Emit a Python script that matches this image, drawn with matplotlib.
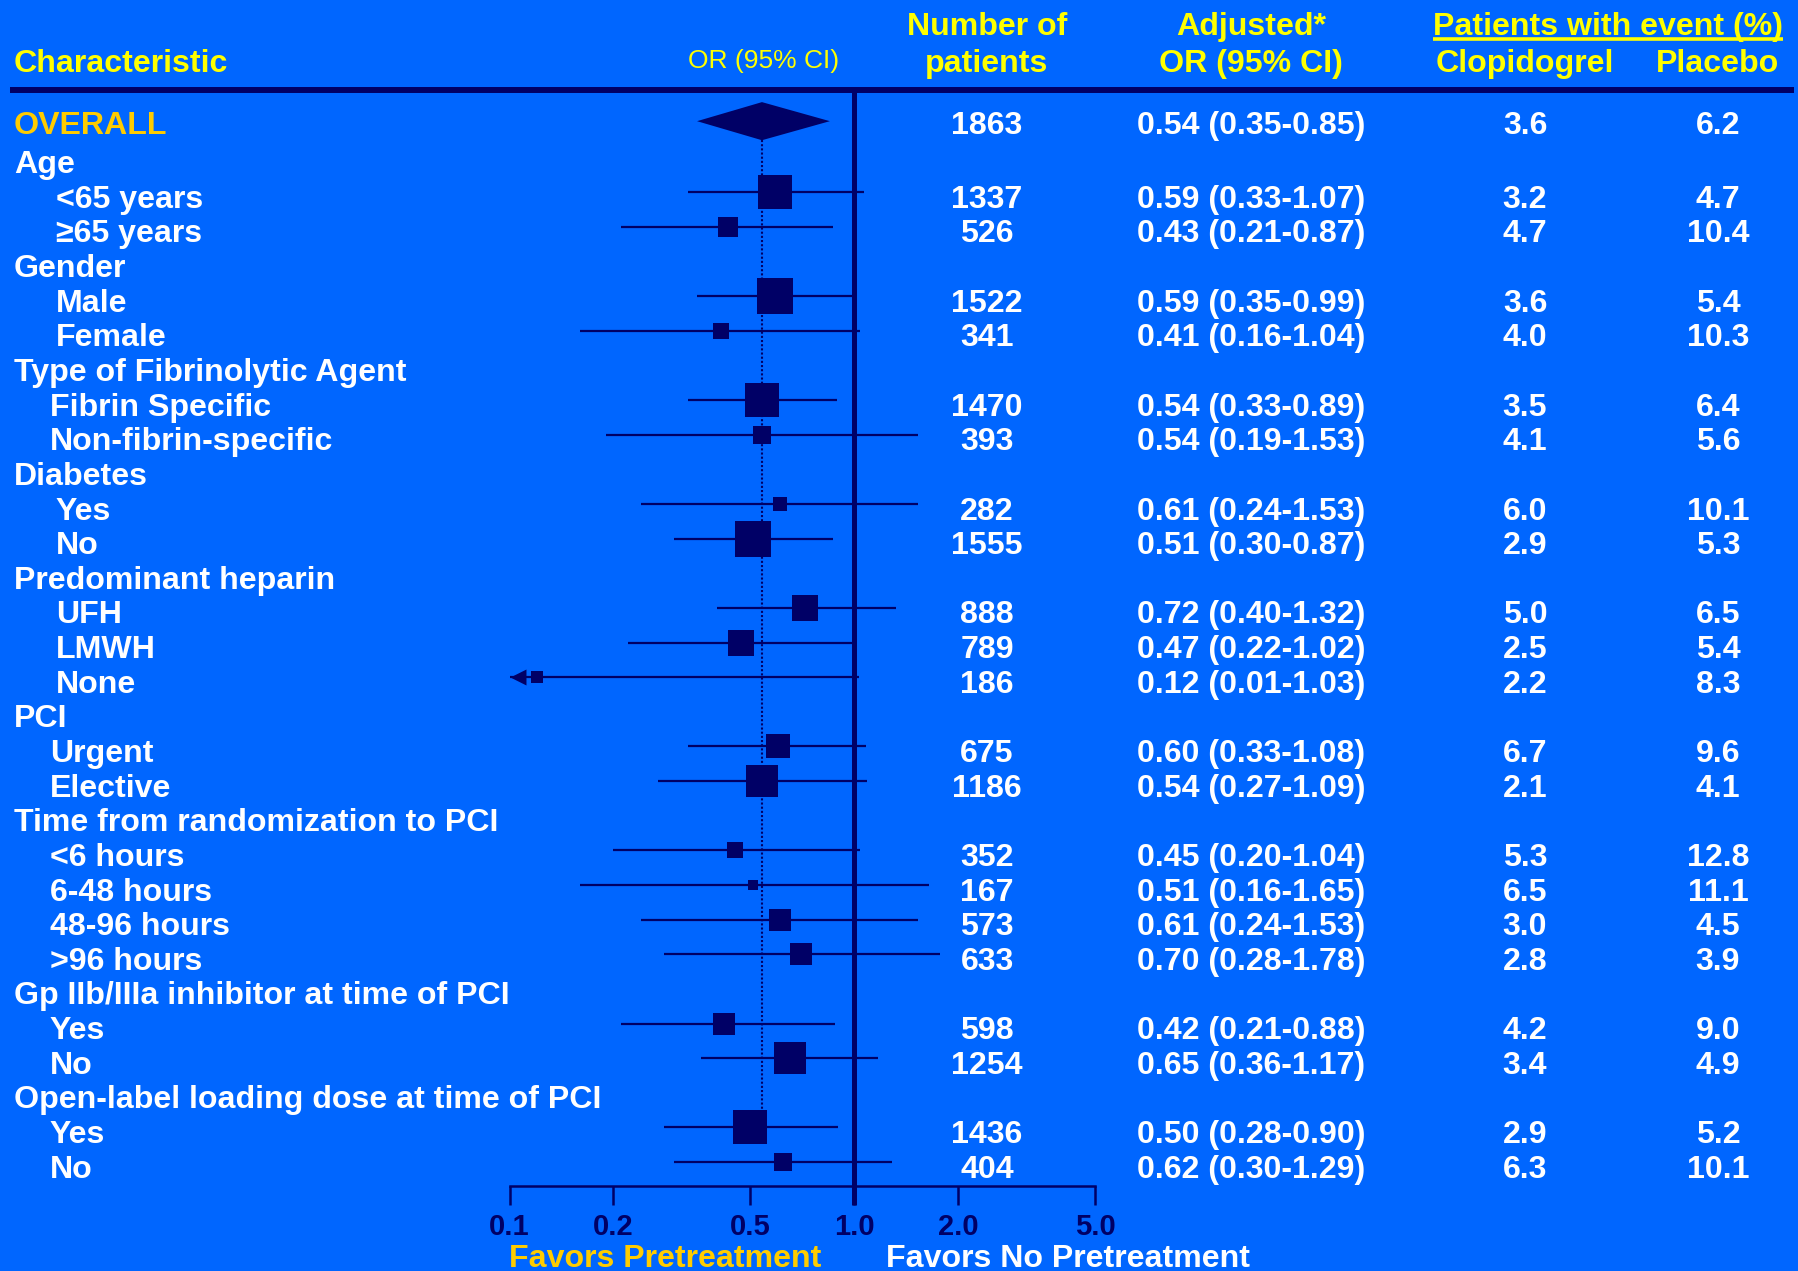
import numpy as np
import matplotlib
matplotlib.use("Agg")
from matplotlib import pyplot as plt
from matplotlib import transforms
from matplotlib.ticker import NullLocator

# ---- data ----
labels = ["OVERALL", "Age", "<65 years", "\u226565 years", "Gender", "Male", "Female",
          "Type of Fibrinolytic Agent", "Fibrin Specific", "Non-fibrin-specific",
          "Diabetes", "Yes", "No", "Predominant heparin", "UFH", "LMWH", "None",
          "PCI", "Urgent", "Elective", "Time from randomization to PCI",
          "<6 hours", "6-48 hours", "48-96 hours", ">96 hours",
          "Gp IIb/IIIa inhibitor at time of PCI", "Yes", "No",
          "Open-label loading dose at time of PCI", "Yes", "No"]
n_patients = [1863, None, 1337, 526, None, 1522, 341, None, 1470, 393, None, 282, 1555,
              None, 888, 789, 186, None, 675, 1186, None, 352, 167, 573, 633,
              None, 598, 1254, None, 1436, 404]
odds_ratio = [0.54, None, 0.59, 0.43, None, 0.59, 0.41, None, 0.54, 0.54, None, 0.61, 0.51,
              None, 0.72, 0.47, 0.12, None, 0.60, 0.54, None, 0.45, 0.51, 0.61, 0.70,
              None, 0.42, 0.65, None, 0.50, 0.62]
ci_low = [0.35, None, 0.33, 0.21, None, 0.35, 0.16, None, 0.33, 0.19, None, 0.24, 0.30,
          None, 0.40, 0.22, 0.01, None, 0.33, 0.27, None, 0.20, 0.16, 0.24, 0.28,
          None, 0.21, 0.36, None, 0.28, 0.30]
ci_high = [0.85, None, 1.07, 0.87, None, 0.99, 1.04, None, 0.89, 1.53, None, 1.53, 0.87,
           None, 1.32, 1.02, 1.03, None, 1.08, 1.09, None, 1.04, 1.65, 1.53, 1.78,
           None, 0.88, 1.17, None, 0.90, 1.29]
clopidogrel = [3.6, None, 3.2, 4.7, None, 3.6, 4.0, None, 3.5, 4.1, None, 6.0, 2.9,
               None, 5.0, 2.5, 2.2, None, 6.7, 2.1, None, 5.3, 6.5, 3.0, 2.8,
               None, 4.2, 3.4, None, 2.9, 6.3]
placebo = [6.2, None, 4.7, 10.4, None, 5.4, 10.3, None, 6.4, 5.6, None, 10.1, 5.3,
           None, 6.5, 5.4, 8.3, None, 9.6, 4.1, None, 12.8, 11.1, 4.5, 3.9,
           None, 9.0, 4.9, None, 5.2, 10.1]
tick_values = [0.1, 0.2, 0.5, 1.0, 2.0, 5.0]
tick_labels = ["0.1", "0.2", "0.5", "1.0", "2.0", "5.0"]

# ---- style ----
BG = "#0066FF"
NAVY = "#000066"
YELLOW = "#FFFF00"
GOLD = "#FFCC00"
WHITE = "#FFFFFF"
FS = 23.1
plt.rcParams["font.family"] = ["Liberation Sans", "DejaVu Sans"]

W, H = 1798, 1271
fig = plt.figure(figsize=(W / 100, H / 100), dpi=100, facecolor=BG)

# background axes in pixel coordinates for the text columns
bg = fig.add_axes([0, 0, 1, 1])
bg.set_xlim(0, W)
bg.set_ylim(H, 0)
bg.axis("off")

# forest axes (log scale), rows in data units
x_lo_px, x_hi_px = 509.6, 1095
top_px, base_px = 90, 1186
ax = fig.add_axes([x_lo_px / W, 1 - base_px / H, (x_hi_px - x_lo_px) / W, (base_px - top_px) / H])
ax.set_zorder(2)
ax.patch.set_visible(False)
ax.set_xscale("log")
ax.set_xlim(0.1, 5)
row_px = 34.64
y_top = 1 + (top_px - 161.7) / row_px
y_bot = 1 + (base_px - 161.7) / row_px
ax.set_ylim(y_bot, y_top)

ypos = np.arange(len(labels), dtype=float)
ypos[0] = -0.13          # overall row sits a bit higher
mark_off = -0.12         # markers sit slightly above the text centre
base_off = 0.33          # text baseline below row centre

# text transform: x in pixels, y in row units
trans = transforms.blended_transform_factory(bg.transData, ax.transData)

item_indent = {"Age": 56, "Gender": 56, "Type of Fibrinolytic Agent": 50, "Diabetes": 56,
               "Predominant heparin": 56, "PCI": 50, "Time from randomization to PCI": 50,
               "Gp IIb/IIIa inhibitor at time of PCI": 50,
               "Open-label loading dose at time of PCI": 50}

group = None
for i, lab in enumerate(labels):
    y = ypos[i] + base_off
    if i == 0:
        bg.text(14, y, lab, transform=trans, color=GOLD, fontsize=FS, fontweight="bold", va="baseline")
    elif n_patients[i] is None:
        group = lab
        bg.text(14, y, lab, transform=trans, color=WHITE, fontsize=FS, fontweight="bold", va="baseline")
    else:
        bg.text(item_indent[group], y, lab, transform=trans, color=WHITE, fontsize=FS,
                fontweight="bold", va="baseline")
    if n_patients[i] is None:
        continue
    bg.text(987, y, str(n_patients[i]), transform=trans, color=WHITE, fontsize=FS,
            fontweight="bold", ha="center", va="baseline")
    bg.text(1251, y, "%.2f (%.2f-%.2f)" % (odds_ratio[i], ci_low[i], ci_high[i]), transform=trans,
            color=WHITE, fontsize=FS, fontweight="bold", ha="center", va="baseline")
    bg.text(1525, y, "%.1f" % clopidogrel[i], transform=trans, color=WHITE, fontsize=FS,
            fontweight="bold", ha="center", va="baseline")
    bg.text(1718, y, "%.1f" % placebo[i], transform=trans, color=WHITE, fontsize=FS,
            fontweight="bold", ha="center", va="baseline")

# ---- forest marks ----
xmin = ax.get_xlim()[0]
for i in range(1, len(labels)):
    if n_patients[i] is None:
        continue
    y = ypos[i] + mark_off
    lo = max(ci_low[i], xmin)
    ax.plot([lo, ci_high[i]], [y, y], color=NAVY, lw=1.6, solid_capstyle="butt", zorder=3)
    side = (0.95 * np.sqrt(n_patients[i]) - 1.5) * 0.72
    ax.plot(odds_ratio[i], y, marker="s", ms=side, mew=0, color=NAVY, zorder=4)
    if ci_low[i] < xmin:
        # CI runs off the scale: arrow head at the left end
        ax.plot(xmin, y, marker=[(0, 0), (1, 0.5), (1, -0.5), (0, 0)], ms=23, mew=0,
                color=NAVY, zorder=4, clip_on=False)

# overall diamond
yd = -0.17
hd = 0.55
ax.fill([ci_low[0], odds_ratio[0], ci_high[0], odds_ratio[0]], [yd, yd - hd, yd, yd + hd],
        color=NAVY, lw=0, zorder=4)
# dotted reference at overall OR
ax.plot([odds_ratio[0], odds_ratio[0]], [yd + hd, ypos[29] + mark_off], color=NAVY, lw=1.5,
        linestyle=(0, (1, 1)), zorder=2)
# line of no effect
ax.plot([1, 1], [y_top, y_bot + 19 / row_px], color=NAVY, lw=3.6, solid_capstyle="butt",
        clip_on=False, zorder=5)

# axis
for s in ["top", "left", "right"]:
    ax.spines[s].set_visible(False)
ax.spines["bottom"].set_color(NAVY)
ax.spines["bottom"].set_linewidth(1.8)
ax.set_yticks([])
ax.set_xticks(tick_values)
ax.set_xticklabels(tick_labels)
ax.xaxis.set_minor_locator(NullLocator())
ax.tick_params(axis="x", direction="out", length=13.7, width=1.8, colors=NAVY, pad=6, labelsize=21)
for t in ax.get_xticklabels():
    t.set_fontweight("bold")

# ---- header ----
bg.text(14, 72.4, "Characteristic", color=YELLOW, fontsize=FS, fontweight="bold", va="baseline")
bg.text(764, 68, "OR (95% CI)", color=YELLOW, fontsize=19, ha="center", va="baseline")
bg.text(987, 35, "Number of", color=YELLOW, fontsize=FS, fontweight="bold", ha="center", va="baseline")
bg.text(987, 72.4, "patients", color=YELLOW, fontsize=FS, fontweight="bold", ha="center", va="baseline")
bg.text(1251, 35, "Adjusted*", color=YELLOW, fontsize=FS, fontweight="bold", ha="center", va="baseline")
bg.text(1251, 72.4, "OR (95% CI)", color=YELLOW, fontsize=FS, fontweight="bold", ha="center", va="baseline")
pt = bg.text(1608, 35, "Patients with event (%)", color=YELLOW, fontsize=FS, fontweight="bold",
             ha="center", va="baseline")
bg.text(1525, 72.4, "Clopidogrel", color=YELLOW, fontsize=FS, fontweight="bold", ha="center", va="baseline")
bg.text(1718, 72.4, "Placebo", color=YELLOW, fontsize=FS, fontweight="bold", ha="center", va="baseline")
bg.plot([10, 1794], [90.3, 90.3], color=NAVY, lw=4.3, solid_capstyle="butt")

# underline the spanning header
fig.canvas.draw()
bb = pt.get_window_extent()
bg.plot([bb.x0, bb.x1], [39.3, 39.3], color=YELLOW, lw=2.6, solid_capstyle="butt")

# footer
bg.text(509, 1267, "Favors Pretreatment", color=GOLD, fontsize=FS, fontweight="bold", va="baseline")
bg.text(886, 1267, "Favors No Pretreatment", color=WHITE, fontsize=FS, fontweight="bold", va="baseline")

fig.savefig("out.png", dpi=100, facecolor=BG)
